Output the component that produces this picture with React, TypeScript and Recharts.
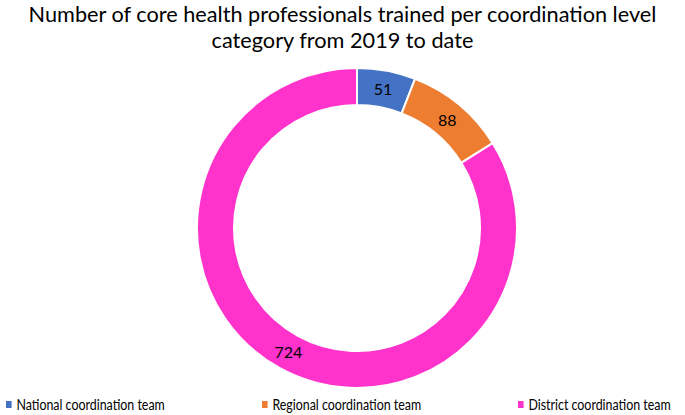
import { PieChart, Pie, Cell } from "recharts";

const categories = ["National coordination team", "Regional coordination team", "District coordination team"];
const trained = [51, 88, 724];
const colors = ["#4472C4", "#ED7D31", "#FF33CC"];

const data = categories.map((name, i) => ({ name, value: trained[i] }));

const FONT = "Lato, 'Open Sans', sans-serif";

function SliceLabel(props: any) {
    const { cx, cy, innerRadius, outerRadius, midAngle, value } = props;
    const r = (innerRadius + outerRadius) / 2;
    const rad = (Math.PI / 180) * midAngle;
    const x = cx + r * Math.cos(rad);
    const y = cy - r * Math.sin(rad);
    return (
        <text x={x} y={y} textAnchor="middle" dominantBaseline="central" fontSize={16} fill="#000" fontFamily={FONT}>
            {value}
        </text>
    );
}

export default function App() {
    return (
        <div style={{ position: "absolute", left: 0, top: 0, width: 685, height: 415, background: "#fff", fontFamily: FONT }}>
            <div style={{ position: "absolute", top: 1, left: 0, width: 685, textAlign: "center", fontSize: 21.7, lineHeight: "26px", color: "#000" }}>
                Number of core health professionals trained per coordination level
                <br />
                category from 2019 to date
            </div>
            <PieChart width={685} height={415} style={{ position: "absolute", left: 0, top: 0 }}>
                <Pie
                    data={data}
                    dataKey="value"
                    cx={352}
                    cy={223}
                    innerRadius={123}
                    outerRadius={160}
                    startAngle={90}
                    endAngle={-270}
                    stroke="#fff"
                    strokeWidth={2}
                    label={<SliceLabel />}
                    labelLine={false}
                    isAnimationActive={false}
                >
                    {data.map((d, i) => (
                        <Cell key={d.name} fill={colors[i]} />
                    ))}
                </Pie>
            </PieChart>
            {categories.map((name, i) => (
                <div key={name} style={{ position: "absolute", top: 395, left: [6, 262, 518][i], display: "flex", alignItems: "center", fontSize: 15.5, color: "#000", whiteSpace: "nowrap", transform: "scaleX(0.8)", transformOrigin: "left center" }}>
                    <span style={{ display: "inline-block", width: 7, height: 7, background: colors[i], marginRight: 6 }} />
                    {name}
                </div>
            ))}
        </div>
    );
}
